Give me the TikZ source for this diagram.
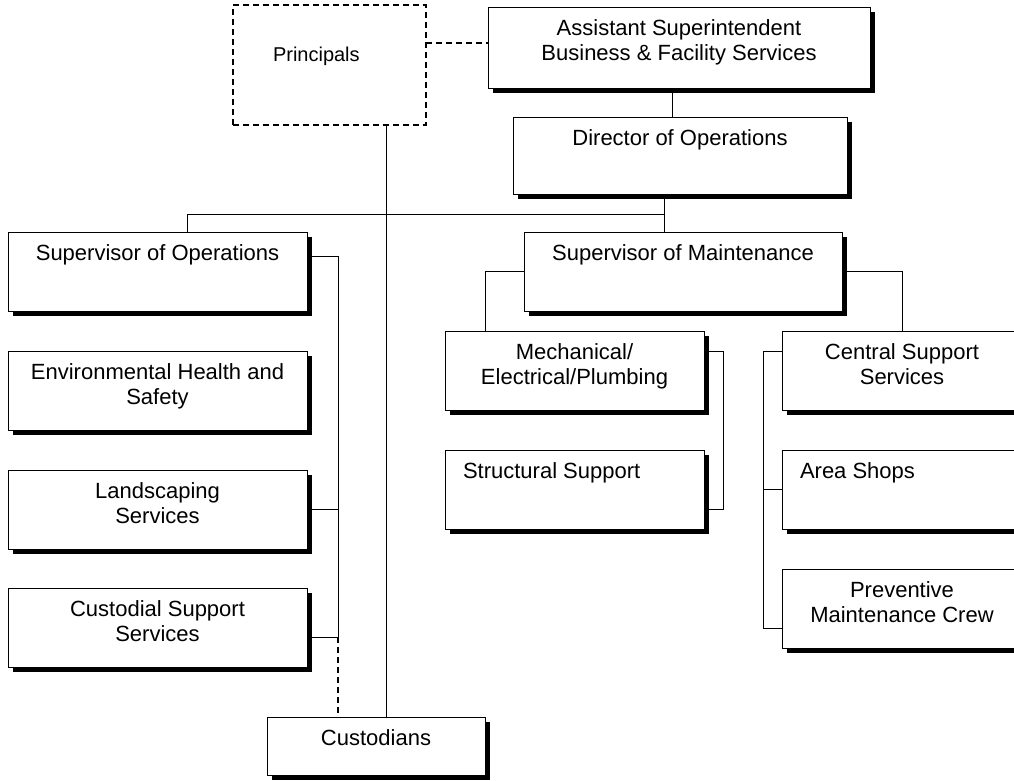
\documentclass[tikz,border=0pt]{standalone}
\usepackage{fontspec}
\setmainfont{Liberation Sans}
\usetikzlibrary{shadows,backgrounds}

% box text: width, height, alignment, text (first baseline 28pt below the top)
\newcommand{\orgtext}[4]{\parbox[t][#2pt][t]{#1pt}{#3\rule{0pt}{28pt}#4}}

\tikzset{
  orgbox/.style={draw=black, line width=1pt, fill=white, inner sep=0pt,
    outer sep=0pt, anchor=north west,
    font=\fontsize{22pt}{25.5pt}\selectfont,
    drop shadow={shadow xshift=5pt, shadow yshift=-5pt, opacity=1, fill=black}},
  dashbox/.style={draw=black, line width=1.2pt, dash pattern=on 6pt off 4pt,
    fill=white, inner sep=0pt, outer sep=0pt, anchor=north west,
    font=\fontsize{20pt}{24pt}\selectfont},
  link/.style={draw=black, line width=1pt},
  dottedlink/.style={link, line width=1.1pt, dash pattern=on 6pt off 4pt},
}

\begin{document}
\begin{tikzpicture}[x=1pt, y=-1pt]
\useasboundingbox (0,0) rectangle (1014,780);
\clip (0,0) rectangle (1014,780);

% ---- boxes ----
\node[dashbox] (principals) at (233,5)
  {\parbox[t][120pt][t]{193pt}{\hspace*{40pt}\rule{0pt}{56pt}Principals}};
\node[orgbox] (assist) at (488,7)
  {\orgtext{382}{81}{\centering}{Assistant Superintendent\\Business \& Facility Services}};
\node[orgbox] (director) at (513,117)
  {\orgtext{334}{77}{\centering}{Director of Operations}};

\node[orgbox] (supops) at (8,232)
  {\orgtext{299}{79}{\centering}{Supervisor of Operations}};
\node[orgbox] (env) at (8,351)
  {\orgtext{299}{79}{\centering}{Environmental Health and\\Safety}};
\node[orgbox] (land) at (8,470)
  {\orgtext{299}{79}{\centering}{Landscaping\\Services}};
\node[orgbox] (cust) at (8,588)
  {\orgtext{299}{79}{\centering}{Custodial Support\\Services}};
\node[orgbox] (custodians) at (267,717)
  {\orgtext{218}{58}{\centering}{Custodians}};

\node[orgbox] (supmaint) at (524,232)
  {\orgtext{318}{79}{\centering}{Supervisor of Maintenance}};
\node[orgbox] (mech) at (445,331)
  {\orgtext{259}{79}{\centering}{Mechanical/\\Electrical/Plumbing}};
\node[orgbox] (struct) at (445,450)
  {\orgtext{259}{79}{\raggedright\hspace*{18pt}}{Structural Support}};
\node[orgbox] (central) at (782,331)
  {\orgtext{240}{79}{\centering}{Central Support\\Services}};
\node[orgbox] (area) at (782,450)
  {\orgtext{240}{79}{\raggedright\hspace*{18pt}}{Area Shops}};
\node[orgbox] (prev) at (782,569)
  {\orgtext{240}{79}{\centering}{Preventive\\Maintenance Crew}};

% ---- connectors ----
\begin{scope}[on background layer]
  % top of the chart
  \draw[dottedlink] ([yshift=-38pt]principals.north east)
    -- ([yshift=-38pt]principals.north east -| assist.west);
  \draw[link] ([xshift=-7pt]assist.south) -- ([xshift=-7pt]assist.south |- director.north);
  \coordinate (trunk) at ([xshift=-16pt,yshift=-20pt]director.south);
  \draw[link] ([xshift=-16pt]director.south) -- ([xshift=-16pt]director.south |- supmaint.north);
  \draw[link] ([xshift=29.5pt]supops.north) |- (trunk);
  \draw[link] ([xshift=10pt]custodians.north |- principals.south) -- ([xshift=10pt]custodians.north);

  % operations column
  \coordinate (opsbus) at ([xshift=31pt,yshift=-49pt]cust.north east);
  \draw[link] ([yshift=-24pt]supops.north east) -| (opsbus) -- ([yshift=-49pt]cust.north east);
  \draw[link] (land.east) -- (land.east -| opsbus);
  \draw[dottedlink] (opsbus) -- (opsbus |- custodians.north);

  % maintenance branches
  \draw[link] ([yshift=-39pt]supmaint.north west) -| ([xshift=40pt]mech.north west);
  \draw[link] ([yshift=-39pt]supmaint.north east) -| (central.north);
  \coordinate (mechbus) at ([xshift=19pt,yshift=-59pt]struct.north east);
  \draw[link] ([yshift=-20pt]mech.north east) -| (mechbus) -- ([yshift=-59pt]struct.north east);
  \coordinate (csbus) at ([xshift=-19pt,yshift=-59pt]prev.north west);
  \draw[link] ([yshift=-20pt]central.north west) -| (csbus) -- ([yshift=-59pt]prev.north west);
  \draw[link] (area.west) -- (area.west -| csbus);
\end{scope}
\end{tikzpicture}
\end{document}
